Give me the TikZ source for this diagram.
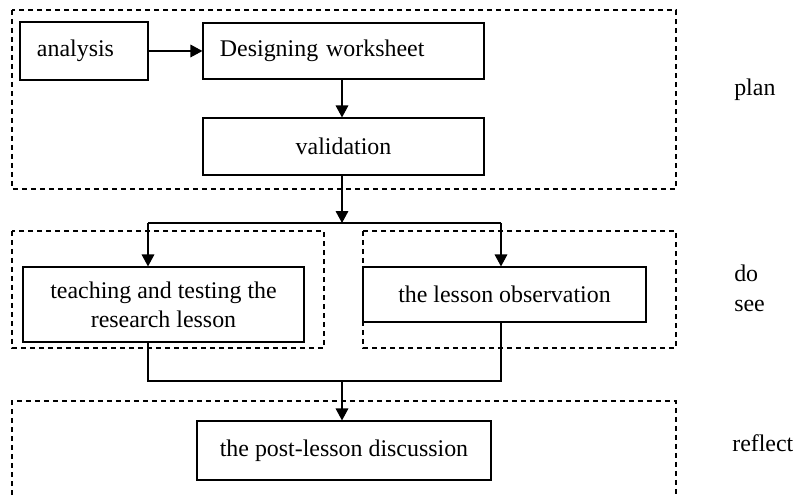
\documentclass[tikz,border=0pt]{standalone}
\usepackage{fontspec}
\setmainfont{Liberation Serif}
\usetikzlibrary{arrows.meta,positioning}
\tikzset{
  box/.style={draw, line width=0.8pt, align=center, inner sep=2pt, font=\fontsize{17}{20.5}\selectfont},
  leftbox/.style={box, align=left, inner xsep=0.425cm},
  group/.style={draw, line width=0.85pt, dash pattern=on 3.8pt off 2.6pt},
  arr/.style={line width=0.8pt, -{Triangle[length=8.5pt,width=9pt]}},
  link/.style={line width=0.8pt},
  stage/.style={anchor=west, align=left, inner sep=0pt, font=\fontsize{17}{21.3}\selectfont}
}

\begin{document}
\begin{tikzpicture}[x=0.025cm, y=-0.025cm]
\clip (0,0) rectangle (795,497);
% Stage frames
\draw[group] (12,10) rectangle (676,189);
\draw[group] (12,231) rectangle (324,348);
\draw[group] (363,231) rectangle (676,348);
\draw[group] (12,540) -- (12,401) -- (676,401) -- (676,540);
% Boxes
\node[leftbox, text width=2.35cm, minimum height=1.45cm] (analysis) at (84,51) {analysis};
\node[leftbox, text width=6.175cm, minimum height=1.4cm] (design) at (343.5,51) {Designing worksheet};
\node[box, minimum width=7.025cm, minimum height=1.425cm] (valid) at (343.5,146.5) {validation};
\node[box, minimum width=7.025cm, minimum height=1.875cm] (teach) at (163.5,304.5) {teaching and testing the\\research lesson};
\node[box, minimum width=7.075cm, minimum height=1.375cm] (observe) at (504.5,294.5) {the lesson observation};
\node[box, minimum width=7.35cm, minimum height=1.475cm] (post) at (344,450.5) {the post-lesson discussion};
% Stage labels
\node[stage] (plan) at (734,90) {plan};
\node[stage] (dosee) at (734,288) {do\\see};
\node[stage] (reflect) at (732,443) {reflect};
% Connectors
\coordinate (branch) at (342,223);
\coordinate (lt) at (148,223);
\coordinate (rt) at (501,223);
\coordinate (merge) at (342,381);
\draw[arr] (analysis) -- (design);
\draw[arr] (design.south -| branch) -- (valid.north -| branch);
\draw[arr] (valid.south -| branch) -- (branch);
\draw[link] (lt) -- (rt);
\draw[arr] (lt) -- (lt |- teach.north);
\draw[arr] (rt) -- (rt |- observe.north);
\draw[link] (lt |- teach.south) -- (lt |- merge) -- (rt |- merge) -- (rt |- observe.south);
\draw[arr] (merge) -- (merge |- post.north);
\end{tikzpicture}
\end{document}
